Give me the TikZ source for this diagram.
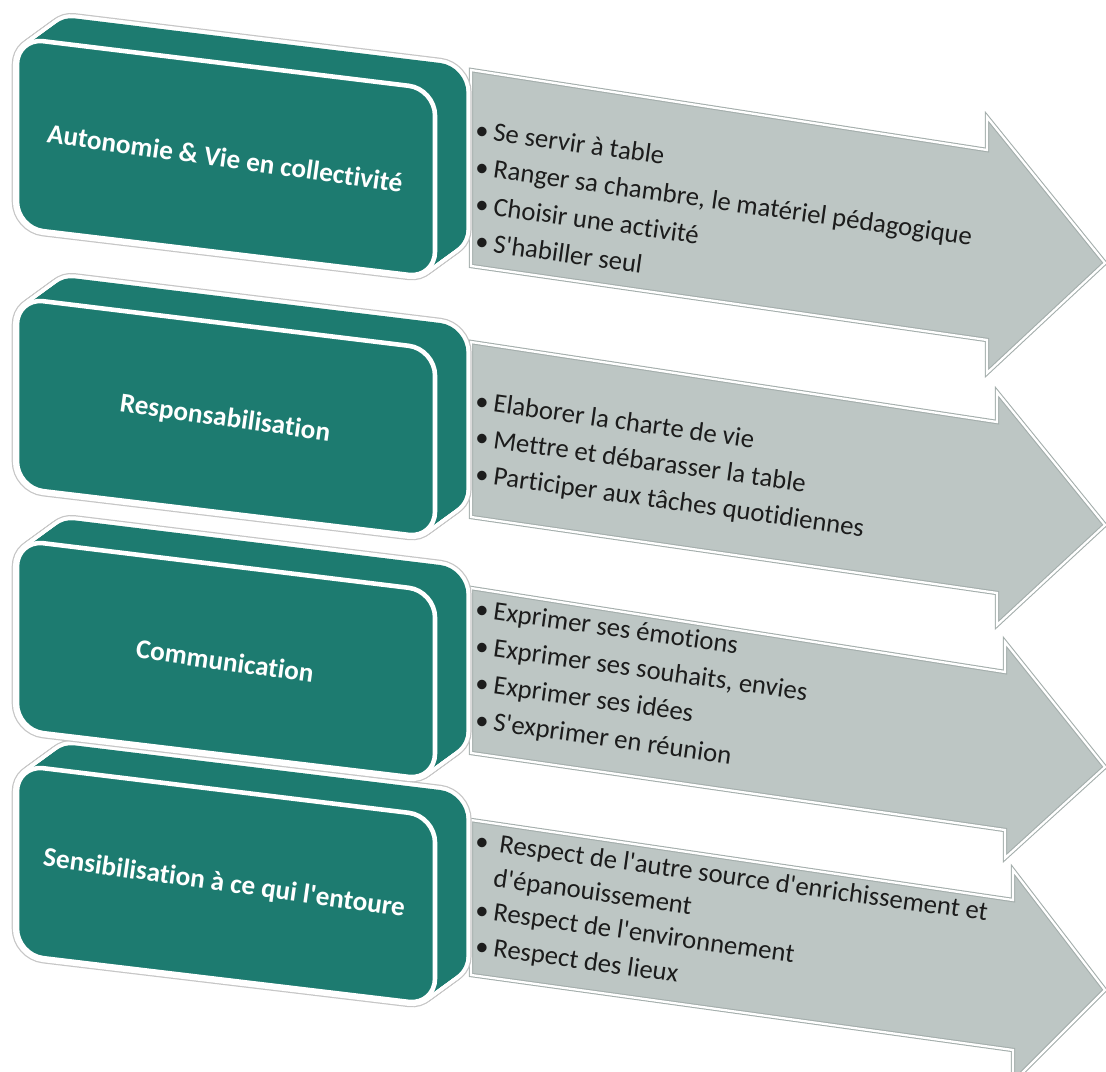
\documentclass[tikz,border=0pt]{standalone}
\usepackage{fontspec}
\setmainfont{Carlito}[Ligatures={TeXOff,NoCommon}]
\definecolor{tealFace}{HTML}{1D7B70}
\definecolor{arrowFill}{HTML}{BDC6C4}
\definecolor{arrowEdge}{HTML}{A3ADAB}
\definecolor{itemInk}{HTML}{1C1C1C}

\tikzset{
  title/.style={text=white, font=\fontsize{15.5}{19}\selectfont\bfseries, rotate=-8, inner sep=0pt},
  item/.style={text=itemInk, font=\fontsize{15.2}{19}\selectfont, rotate=-8, anchor=base west, inner sep=0pt},
  arrowbody/.style={fill=arrowFill, draw=arrowEdge, double=white, double distance=1.3pt, line width=0.6pt},
  blockedge/.style={rounded corners=15pt},
}

% extruded teal block, #1 = top of the front face
\newcommand{\tealblock}[1]{%
  \foreach \s in {0,0.05,...,1}
    \draw[blockedge, draw=gray!45, line width=6pt, shift={(33*\s,-24*\s)}]
      (17,#1) -- (435,#1+51) -- (435,#1+240) -- (17,#1+190) -- cycle;
  \foreach \s in {0,0.05,...,1}
    \draw[blockedge, draw=white, line width=4.6pt, shift={(33*\s,-24*\s)}]
      (17,#1) -- (435,#1+51) -- (435,#1+240) -- (17,#1+190) -- cycle;
  \foreach \s in {0,0.05,...,1}
    \fill[blockedge, tealFace, shift={(33*\s,-24*\s)}]
      (17,#1) -- (435,#1+51) -- (435,#1+240) -- (17,#1+190) -- cycle;
  \draw[blockedge, fill=tealFace, draw=white, line width=2.6pt]
    (17,#1) -- (435,#1+51) -- (435,#1+240) -- (17,#1+190) -- cycle;
}

\newcommand{\dotitem}{\makebox[10.5pt][l]{\textbullet}}

\begin{document}
\begin{tikzpicture}[x=0.02cm, y=-0.02cm]
  \useasboundingbox (0,0) rectangle (1106,1072);
  \clip (0,0) rectangle (1106,1072);

  % gray arrows
  \draw[arrowbody] (471,70) -- (987,150) -- (987,117) -- (1105,263) -- (987,373) -- (987,340) -- (471,266) -- cycle;
  \draw[arrowbody] (471,342) -- (997,422) -- (997,392) -- (1105,525) -- (997,625) -- (997,593) -- (471,517) -- cycle;
  \draw[arrowbody] (471,588) -- (1005,672) -- (1005,642) -- (1105,767) -- (1005,858) -- (1005,830) -- (471,753) -- cycle;
  \draw[arrowbody] (471,820) -- (1013,900) -- (1013,870) -- (1105,990) -- (1013,1082) -- (1013,1050) -- (471,975) -- cycle;

  % teal blocks, lowest first
  \tealblock{765}
  \tealblock{540}
  \tealblock{298}
  \tealblock{38}

  % titles
  \node[title] (t1) at (225,158) {Autonomie \& Vie en collectivité};
  \node[title] (t2) at (225,419) {Responsabilisation};
  \node[title] (t3) at (225,661) {Communication};
  \node[title] (t4) at (224,884) {Sensibilisation à ce qui l'entoure};

  % bullet lists
  \foreach \txt [count=\i] in {Se servir à table, {Ranger sa chambre, le matériel pédagogique}, Choisir une activité, S'habiller seul}
    \node[item] (r1i\i) at (474,{138+37.3*(\i-1)}) {\dotitem\txt};
  \foreach \txt [count=\i] in {Elaborer la charte de vie, Mettre et débarasser la table, Participer aux tâches quotidiennes}
    \node[item] (r2i\i) at (474,{409+36.5*(\i-1)}) {\dotitem\txt};
  \foreach \txt [count=\i] in {Exprimer ses émotions, {Exprimer ses souhaits, envies}, Exprimer ses idées, S'exprimer en réunion}
    \node[item] (r3i\i) at (474,{617+37*(\i-1)}) {\dotitem\txt};
  \node[item] (r4i1) at (474,849) {\dotitem\ Respect de l'autre source d'enrichissement et};
  \node[item] (r4i1b) at (474,884) {\hspace{10.5pt}d'épanouissement};
  \node[item] (r4i2) at (474,918) {\dotitem Respect de l'environnement};
  \node[item] (r4i3) at (474,954) {\dotitem Respect des lieux};
\end{tikzpicture}
\end{document}
